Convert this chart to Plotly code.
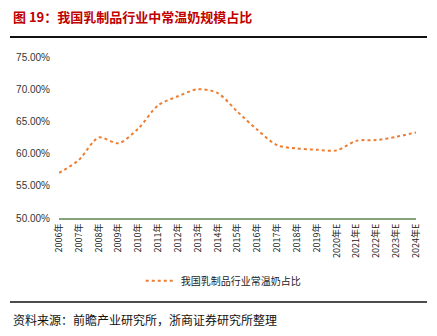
import plotly.graph_objects as go

years = ["2006年", "2007年", "2008年", "2009年", "2010年", "2011年", "2012年", "2013年",
         "2014年", "2015年", "2016年", "2017年", "2018年", "2019年", "2020年E",
         "2021年E", "2022年E", "2023年E", "2024年E"]
share = [0.570, 0.590, 0.625, 0.616, 0.639, 0.675, 0.689, 0.700, 0.694, 0.665,
         0.637, 0.613, 0.608, 0.606, 0.605, 0.620, 0.621, 0.626, 0.633]
series_name = "我国乳制品行业常温奶占比"
title_text = "图 19：我国乳制品行业中常温奶规模占比"
source_text = "资料来源：前瞻产业研究所，浙商证券研究所整理"

W, H = 437, 336
ml, mr, mt, mb = 59, 21, 57, 118

fig = go.Figure()
fig.add_trace(go.Scatter(
    x=years, y=share, mode="lines", name=series_name,
    line=dict(color="#ED7D31", width=2, dash="dot", shape="spline", smoothing=0.8),
))

font_cjk = "Noto Sans CJK SC"
fig.update_layout(
    width=W, height=H,
    margin=dict(l=ml, r=mr, t=mt, b=mb),
    paper_bgcolor="white", plot_bgcolor="white",
    showlegend=True,
    legend=dict(orientation="h", x=0.46, xanchor="center", y=-0.30, yanchor="top",
                font=dict(family=font_cjk, size=10, color="#222"),
                itemwidth=30, bgcolor="rgba(0,0,0,0)"),
    xaxis=dict(type="category", tickangle=-90, showgrid=False, showline=True,
               linecolor="#86A47A", linewidth=2, ticks="",
               tickfont=dict(family=font_cjk, size=9, color="#222")),
    yaxis=dict(range=[0.5, 0.75], dtick=0.05, tickformat=".2%", showgrid=False,
               zeroline=False, showline=False, ticks="", ticklabelstandoff=8,
               tickfont=dict(family="Liberation Sans", size=10, color="#333")),
    font=dict(family=font_cjk),
)

pw, ph = W - ml - mr, H - mt - mb
def px_x(x):
    return (x - ml) / pw
def px_y(y):
    return (H - mb - y) / ph

fig.add_annotation(xref="paper", yref="paper", x=px_x(11), y=px_y(16),
                   xanchor="left", yanchor="middle",
                   text="<b>" + title_text + "</b>", showarrow=False,
                   font=dict(family=font_cjk, size=13, color="#C00000"))
fig.add_annotation(xref="paper", yref="paper", x=px_x(11), y=px_y(319),
                   xanchor="left", yanchor="middle",
                   text=source_text, showarrow=False,
                   font=dict(family=font_cjk, size=12, color="#111"))

fig.add_shape(type="line", xref="paper", yref="paper", x0=px_x(10), x1=px_x(427),
              y0=px_y(37), y1=px_y(37), line=dict(color="#111", width=2))
fig.add_shape(type="line", xref="paper", yref="paper", x0=px_x(10), x1=px_x(427),
              y0=px_y(302), y1=px_y(302), line=dict(color="#111", width=1.5))

fig.write_html("out.html")
